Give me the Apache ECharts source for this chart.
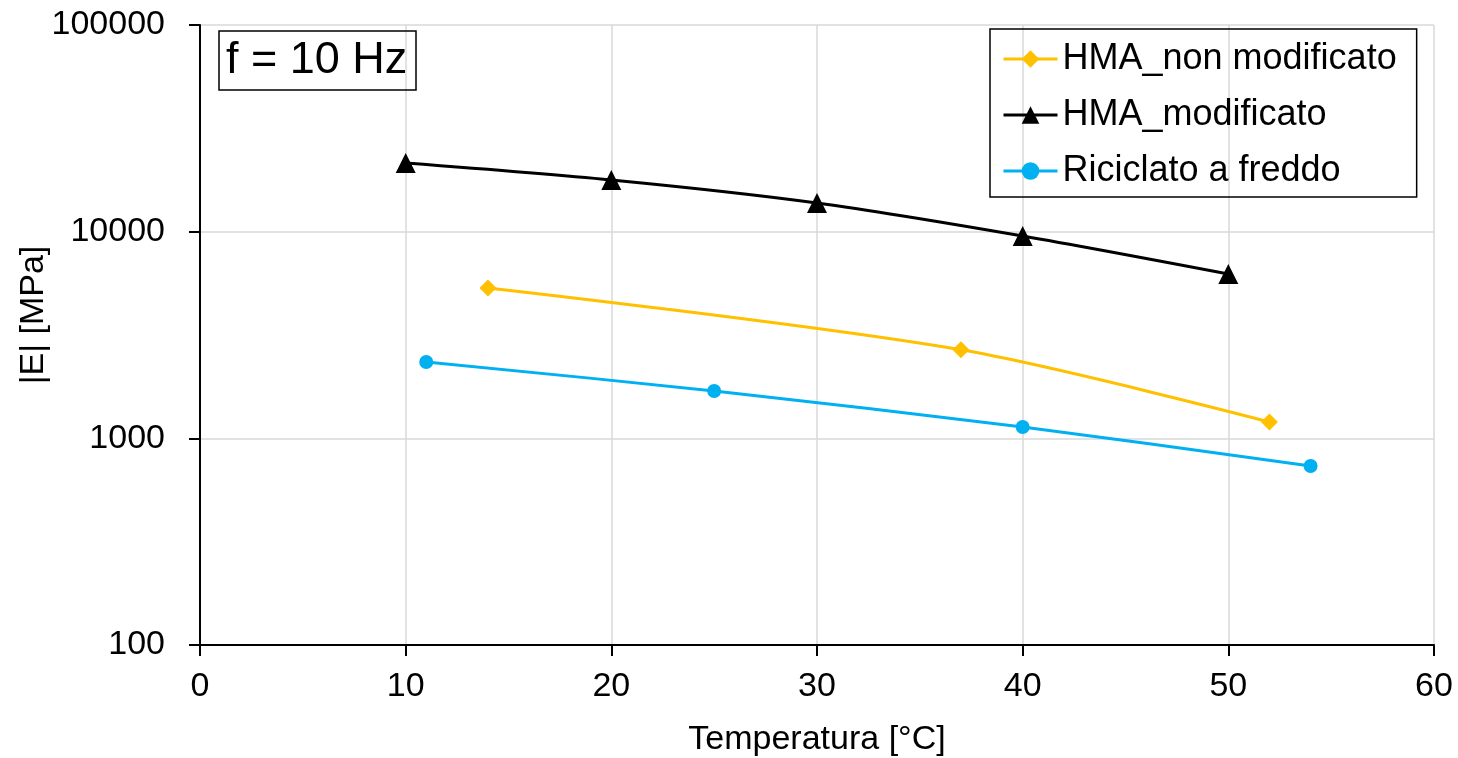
<!DOCTYPE html>
<html><head><meta charset="utf-8">
<script src="https://cdn.jsdelivr.net/npm/echarts@6/dist/echarts.min.js"></script>
<style>html,body{margin:0;padding:0;background:#fff}#c{width:1458px;height:758px}</style>
</head><body><div id="c"></div>
<script>
const seriesNames = ['HMA_non modificato', 'HMA_modificato', 'Riciclato a freddo'];
const hmaNonModX = [14, 37, 52];
const hmaNonModY = [5340, 2680, 1200];
const hmaModX = [10, 20, 30, 40, 50];
const hmaModY = [21500, 17800, 13770, 9530, 6240];
const ricX = [11, 25, 40, 54];
const ricY = [2340, 1695, 1135, 735];
const colors = ['#FFC000', '#000000', '#00B0F0'];
const symbols = ['diamond', 'triangle', 'circle'];
const symbolSizes = [17, 20, 14];

const FONT = 'Liberation Sans, Arial, sans-serif';
const FS = 34;
const pairs = [[hmaNonModX, hmaNonModY], [hmaModX, hmaModY], [ricX, ricY]];

const chart = echarts.init(document.getElementById('c'), null, {renderer: 'canvas'});
chart.setOption({
  animation: false,
  backgroundColor: '#fff',
  textStyle: {fontFamily: FONT},
  grid: {left: 200, right: 24, top: 25, bottom: 113, containLabel: false, outerBoundsMode: 'none'},
  title: {
    text: 'f = 10 Hz', left: 219, top: 31,
    borderColor: '#000', borderWidth: 1.5, padding: [7, 9, 7, 7],
    textStyle: {fontFamily: FONT, fontSize: 45, fontWeight: 'normal', color: '#000'}
  },
  legend: {
    orient: 'vertical', left: 990, top: 29,
    padding: [12, 20, 8, 12],
    borderColor: '#000', borderWidth: 1.5,
    itemWidth: 54, itemHeight: 22, itemGap: 20,
    lineStyle: {width: 3},
    textStyle: {fontFamily: FONT, fontSize: 36, color: '#000'},
    data: seriesNames
  },
  xAxis: {
    type: 'value', min: 0, max: 60, interval: 10,
    name: 'Temperatura [°C]', nameLocation: 'middle', nameGap: 78, nameMoveOverlap: false,
    nameTextStyle: {fontFamily: FONT, fontSize: FS, color: '#000'},
    axisLine: {show: true, onZero: false, lineStyle: {color: '#000', width: 2}},
    axisTick: {show: true, length: 11, lineStyle: {color: '#000', width: 2}},
    axisLabel: {fontFamily: FONT, fontSize: FS, color: '#000', margin: 25},
    splitLine: {show: true, lineStyle: {color: '#D9D9D9', width: 1.5}}
  },
  yAxis: {
    type: 'log', logBase: 10, min: 100, max: 100000,
    name: '|E| [MPa]', nameLocation: 'middle', nameGap: 149, nameRotate: 90, nameMoveOverlap: false,
    nameTextStyle: {fontFamily: FONT, fontSize: FS, color: '#000', padding: [0, 0, 0, 40]},
    axisLine: {show: true, lineStyle: {color: '#000', width: 2}},
    axisTick: {show: true, length: 11, lineStyle: {color: '#000', width: 2}},
    axisLabel: {fontFamily: FONT, fontSize: FS, color: '#000', margin: 35,
      formatter: v => String(Math.round(v))},
    splitLine: {show: true, lineStyle: {color: '#D9D9D9', width: 1.5}},
    minorTick: {show: false}
  },
  series: seriesNames.map((n, i) => ({
    name: n, type: 'line', smooth: 0.3,
    data: pairs[i][0].map((x, k) => [x, pairs[i][1][k]]),
    symbol: symbols[i], symbolSize: symbolSizes[i],
    showAllSymbol: true,
    lineStyle: {color: colors[i], width: 3},
    itemStyle: {color: colors[i], borderWidth: 0}
  }))
});
</script></body></html>
